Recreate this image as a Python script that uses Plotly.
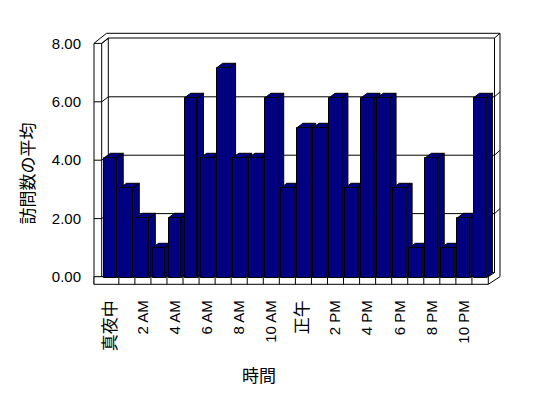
import plotly.graph_objects as go

# ---- data ----
hours = list(range(24))
visits = [4, 3, 2, 1, 2, 6, 4, 7, 4, 4, 6, 3, 5, 5, 6, 3, 6, 6, 3, 1, 4, 1, 2, 6]
tick_idx = [0, 2, 4, 6, 8, 10, 12, 14, 16, 18, 20, 22]
tick_labels = ["真夜中", "2 AM", "4 AM", "6 AM", "8 AM", "10 AM", "正午",
               "2 PM", "4 PM", "6 PM", "8 PM", "10 PM"]
y_ticks = [0, 2, 4, 6, 8]
x_title = "時間"
y_title = "訪問数の平均"

# ---- style / layout constants ----
OX, OY = 8, 8            # page body margin
W, H = 540, 390          # figure size inside the window
NAVY = "#000080"
BAR_W = 0.8      # bar width in category units
DX = 0.374       # 3-D depth offset (category units)
DY = 0.147       # 3-D depth offset (value units)
WALL_DY = 0.171  # back wall offset on front value axis
FONT = "Liberation Sans, Arial, Noto Sans CJK JP, sans-serif"

# pixel mapping of axes (layout only, window pixel coordinates)
XR = [(OX - 110.8) / 16.05, (OX + W - 110.8) / 16.05]
YR = [(277.7 - (OY + H)) / 30.0, (277.7 - OY) / 30.0]
YR3 = [(277.0 - (OY + H)) / 29.2, (277.0 - OY) / 29.2]


def px(x):
    return (x - OX) / W


def py(y):
    return 1 - (y - OY) / H


def styled(label):
    # CJK labels are drawn a little larger in the original
    if any(ord(c) > 0x2E80 for c in label):
        return "<span style='font-size:17px'>" + label + "</span>"
    return label


fig = go.Figure()

# top and side faces of each bar (drawn left to right)
for i, v in zip(hours, visits):
    L = i - BAR_W / 2
    R = i + BAR_W / 2
    xs = [L, R, R + DX, L + DX, L, None, R, R + DX, R + DX, R, R]
    ys = [v, v, v + DY, v + DY, v, None, v, v + DY, DY, 0, v]
    fig.add_trace(go.Scatter(x=xs, y=ys, mode="lines", fill="toself",
                             fillcolor=NAVY, line=dict(color="black", width=1),
                             hoverinfo="skip", showlegend=False,
                             xaxis="x", yaxis="y"))

# front faces of the bars
fig.add_trace(go.Bar(x=hours, y=visits, width=BAR_W,
                     marker=dict(color=NAVY, line=dict(color="black", width=1)),
                     showlegend=False, xaxis="x2", yaxis="y2"))

# value axis carrier
fig.add_trace(go.Scatter(x=[], y=[], xaxis="x", yaxis="y3", showlegend=False))

shapes = []
line = dict(color="black", width=1)


def seg(x0, y0, x1, y1, xref="paper", yref="paper"):
    shapes.append(dict(type="line", x0=x0, y0=y0, x1=x1, y1=y1,
                       xref=xref, yref=yref, line=line, layer="below"))


# back wall
shapes.append(dict(type="rect", x0=px(108.3), x1=px(494.5), y0=py(272.5), y1=py(38),
                   xref="paper", yref="paper", line=line, fillcolor="white",
                   layer="below"))
seg(px(106.5), py(33.3), px(500), py(33.3))
seg(px(500), py(33.3), px(500), py(276.7))
seg(px(494.5), py(38), px(500), py(33.3))
# left wall
seg(px(94), py(43.3), px(94), py(284.3))
seg(px(101.7), py(43.3), px(101.7), py(276.7))
seg(px(94), py(43.3), px(106.5), py(33.3))
seg(px(101.7), py(43.3), px(108.3), py(38))
# gridlines and wall ticks
for t in y_ticks:
    seg(px(94), t, px(101.7), t, yref="y3")
    seg(px(101.7), t, px(108.3), t + WALL_DY, yref="y3")
    if 0 < t < 8:
        seg(px(108.3), t + WALL_DY, px(494.5), t + WALL_DY, yref="y3")
        seg(px(494.5), t + WALL_DY, px(500), t + 2 * WALL_DY, yref="y3")
# floor
shapes.append(dict(type="rect", x0=px(94), x1=px(488.3), y0=py(284.3), y1=py(276.7),
                   xref="paper", yref="paper", line=line, fillcolor="white",
                   layer="below"))
for i in hours[:-1]:
    seg(i + 0.5, py(276.7), i + 0.5, py(284.3), xref="x")
seg(px(488.3), py(284.3), px(500), py(276.7))
seg(px(488.3), py(276.7), px(494.5), py(272.5))

fig.update_layout(
    width=W, height=H,
    margin=dict(l=0, r=0, t=0, b=0),
    paper_bgcolor="white", plot_bgcolor="rgba(0,0,0,0)",
    font=dict(family=FONT, size=15, color="black"),
    showlegend=False,
    bargap=0,
    shapes=shapes,
    xaxis=dict(range=XR, showgrid=False, zeroline=False, showline=False,
               tickmode="array", tickvals=tick_idx,
               ticktext=[styled(t) for t in tick_labels],
               tickangle=-90, ticks="", anchor="free", position=py(284.3),
               ticklabelstandoff=12, tickfont=dict(size=15, color="black")),
    xaxis2=dict(range=XR, overlaying="x", anchor="y2", visible=False),
    yaxis=dict(range=YR, showgrid=False, zeroline=False, showline=False,
               showticklabels=False, ticks=""),
    yaxis2=dict(range=YR, overlaying="y", anchor="x2", visible=False),
    yaxis3=dict(range=YR3, overlaying="y", anchor="free", position=px(94),
                side="left", tickmode="array", tickvals=y_ticks,
                tickformat=".2f", ticks="", showgrid=False, zeroline=False,
                showline=False, ticklabelstandoff=13, tickfont=dict(size=15)),
    annotations=[
        dict(text=y_title, x=px(28), y=py(173.5), xref="paper", yref="paper",
             textangle=-90, showarrow=False, font=dict(size=17),
             xanchor="center", yanchor="middle"),
        dict(text=x_title, x=px(259), y=py(376), xref="paper", yref="paper",
             showarrow=False, font=dict(size=17),
             xanchor="center", yanchor="middle"),
    ],
)

fig.write_html("out.html")
